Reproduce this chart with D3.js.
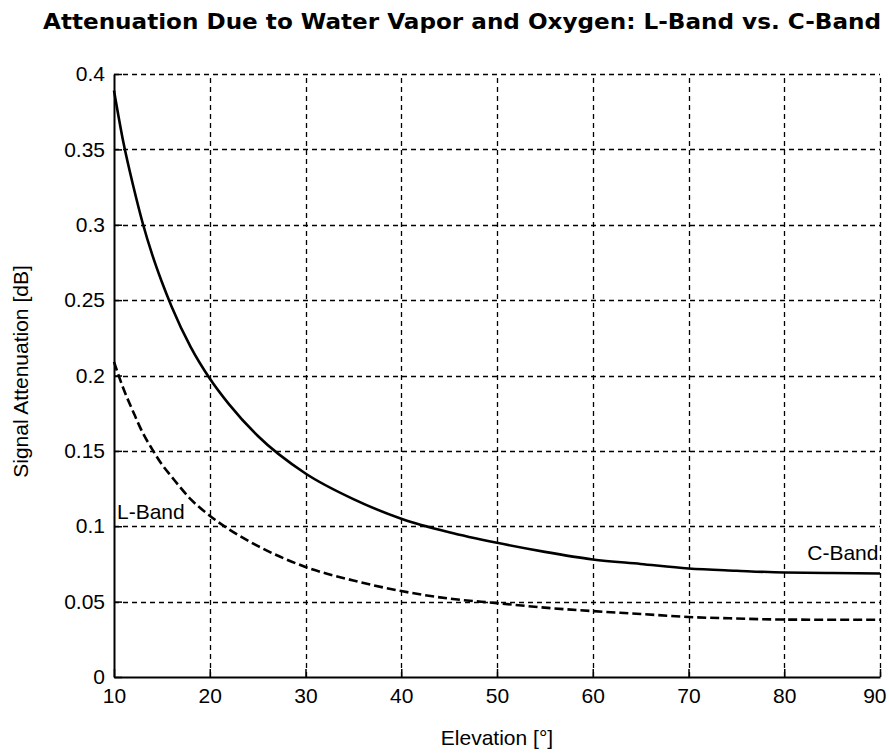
<!DOCTYPE html>
<html>
<head>
<meta charset="utf-8">
<script src="https://cdn.jsdelivr.net/npm/d3@7"></script>
<style>
  html, body { margin: 0; padding: 0; background: #fff; }
  svg { display: block; }
  .tick text { font-family: "Liberation Sans", Arial, sans-serif; font-size: 21px; fill: #000; }
</style>
</head>
<body>
<svg id="chart" width="889" height="755"></svg>
<script>
// Elevation angles (degrees) at which the attenuation was sampled
const elevation = [10, 11, 12, 13, 14, 15, 16, 18, 20, 22, 25, 30, 35, 40, 45, 50, 55, 60, 65, 70, 75, 80, 85, 90];

// Signal attenuation from water vapour and oxygen [dB]
const cBand = [0.389, 0.354, 0.326, 0.301, 0.280, 0.262, 0.246, 0.219, 0.198, 0.181, 0.160, 0.135, 0.118, 0.105,
               0.096, 0.089, 0.083, 0.078, 0.075, 0.072, 0.0705, 0.0693, 0.069, 0.0687];
const lBand = [0.209, 0.191, 0.176, 0.162, 0.151, 0.141, 0.133, 0.118, 0.107, 0.098, 0.087, 0.073, 0.064, 0.057,
               0.052, 0.049, 0.046, 0.0437, 0.0418, 0.0398, 0.0388, 0.0381, 0.038, 0.038];

const xTicks = [10, 20, 30, 40, 50, 60, 70, 80, 90];
const yTicks = [0, 0.05, 0.1, 0.15, 0.2, 0.25, 0.3, 0.35, 0.4];

const titleText = "Attenuation Due to Water Vapor and Oxygen: L-Band vs. C-Band";
const xLabel = "Elevation [°]";
const yLabel = "Signal Attenuation [dB]";

const W = 889, H = 755;
const margin = { top: 74, right: 9, bottom: 78, left: 114 };
const iw = W - margin.left - margin.right;
const ih = H - margin.top - margin.bottom;

const svg = d3.select("#chart");
const g = svg.append("g").attr("transform", `translate(${margin.left},${margin.top})`);

const x = d3.scaleLinear().domain([10, 90]).range([0, iw]);
const y = d3.scaleLinear().domain([0, 0.4]).range([ih, 0]);

// dashed grid
const grid = g.append("g").attr("stroke", "#000").attr("stroke-width", 1.3)
  .attr("stroke-dasharray", "5,4").attr("fill", "none");
grid.selectAll("line.v").data(xTicks.filter(d => d > 10)).join("line")
  .attr("class", "v")
  .attr("x1", d => Math.round(x(d)) + 0.5).attr("x2", d => Math.round(x(d)) + 0.5)
  .attr("y1", ih).attr("y2", 0);
grid.selectAll("line.h").data(yTicks.filter(d => d > 0)).join("line")
  .attr("class", "h")
  .attr("y1", d => Math.round(y(d)) + 0.5).attr("y2", d => Math.round(y(d)) + 0.5)
  .attr("x1", 0).attr("x2", iw);

// axes with inward ticks
const fmt = d => String(+d.toFixed(2));
const xAxis = g.append("g").attr("transform", `translate(0,${ih})`)
  .call(d3.axisBottom(x).tickValues(xTicks).tickSizeInner(-8).tickSizeOuter(0).tickPadding(11).tickFormat(fmt));
const yAxis = g.append("g")
  .call(d3.axisLeft(y).tickValues(yTicks).tickSizeInner(-8).tickSizeOuter(0).tickPadding(9).tickFormat(fmt));
[xAxis, yAxis].forEach(a => {
  a.select(".domain").attr("stroke", "#000").attr("stroke-width", 2);
  a.selectAll(".tick line").attr("stroke", "#000").attr("stroke-width", 1.5);
});
// keep the last elevation label inside the page edge
xAxis.selectAll(".tick text").filter(d => d === 90).attr("text-anchor", "end").attr("dx", "6");

// attenuation curves
const line = d3.line().x((d, i) => x(elevation[i])).y(d => y(d)).curve(d3.curveMonotoneX);
g.append("path").datum(cBand).attr("d", line)
  .attr("fill", "none").attr("stroke", "#000").attr("stroke-width", 2.6);
g.append("path").datum(lBand).attr("d", line)
  .attr("fill", "none").attr("stroke", "#000").attr("stroke-width", 2.6)
  .attr("stroke-dasharray", "9,4");

// curve labels
const labelFont = "Liberation Sans, Arial, sans-serif";
g.append("text").attr("x", x(10) + 3).attr("y", y(0.1048))
  .attr("font-family", labelFont).attr("font-size", 21).text("L-Band");
g.append("text").attr("x", x(82.4)).attr("y", y(0.0778))
  .attr("font-family", labelFont).attr("font-size", 21).text("C-Band");

// title and axis labels
svg.append("text").attr("x", 462).attr("y", 29).attr("text-anchor", "middle")
  .attr("font-family", "DejaVu Sans, sans-serif").attr("font-weight", "bold").attr("font-size", 22)
  .attr("textLength", 838).attr("lengthAdjust", "spacingAndGlyphs")
  .text(titleText);
svg.append("text").attr("x", margin.left + iw / 2).attr("y", 745).attr("text-anchor", "middle")
  .attr("font-family", labelFont).attr("font-size", 21).text(xLabel);
svg.append("text").attr("transform", `translate(28,${margin.top + ih / 2 - 4}) rotate(-90)`)
  .attr("text-anchor", "middle")
  .attr("font-family", labelFont).attr("font-size", 21).text(yLabel);
</script>
</body>
</html>
